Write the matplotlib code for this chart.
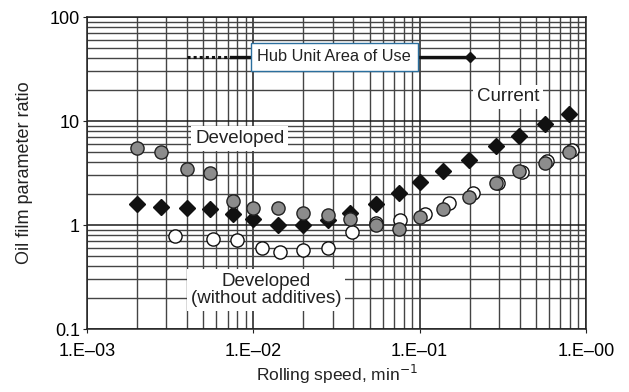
import matplotlib.pyplot as plt
from matplotlib.ticker import LogLocator, FixedLocator, NullFormatter

plt.rcParams['font.family'] = ['Liberation Sans', 'DejaVu Sans']

# Developed (grey circles)
dev_x = [0.002, 0.0028, 0.004, 0.0055, 0.0075, 0.01, 0.014, 0.02, 0.028, 0.038,
         0.055, 0.075, 0.1, 0.139, 0.198, 0.289, 0.398, 0.565, 0.794]
dev_y = [5.46, 5.07, 3.43, 3.14, 1.71, 1.47, 1.46, 1.30, 1.26, 1.13,
         1.0, 0.92, 1.2, 1.42, 1.85, 2.55, 3.28, 3.99, 5.07]

# Current (black diamonds)
cur_x = [0.002, 0.0028, 0.004, 0.0055, 0.0075, 0.01, 0.014, 0.02, 0.028, 0.038,
         0.055, 0.075, 0.1, 0.139, 0.198, 0.289, 0.398, 0.565, 0.794]
cur_y = [1.58, 1.50, 1.45, 1.42, 1.28, 1.13, 1.0, 0.99, 1.12, 1.31,
         1.58, 2.02, 2.57, 3.28, 4.22, 5.79, 7.22, 9.29, 11.75]

# Developed without additives (white circles)
noadd_x = [0.0034, 0.0057, 0.008, 0.0112, 0.0145, 0.02, 0.028, 0.0393, 0.055,
           0.0766, 0.107, 0.15, 0.21, 0.295, 0.413, 0.58, 0.82]
noadd_y = [0.78, 0.73, 0.71, 0.60, 0.55, 0.57, 0.60, 0.85, 1.04,
           1.11, 1.28, 1.64, 2.03, 2.55, 3.23, 4.1, 5.25]

# hub unit area of use
hub_dotted = [0.004, 0.0073]
hub_solid = [0.0073, 0.2]
hub_level = 41.5

xticks = [1e-3, 1e-2, 1e-1, 1e0]
xticklabels = ['1.E\u201303', '1.E\u201302', '1.E\u201301', '1.E\u201300']
yticks = [0.1, 1, 10, 100]
yticklabels = ['0.1', '1', '10', '100']

fig = plt.figure(figsize=(6.29, 3.92), dpi=100)
ax = fig.add_axes([0.1383, 0.1607, 0.7933, 0.7959])
ax.set_xscale('log')
ax.set_yscale('log')
ax.set_xlim(1e-3, 1)
ax.set_ylim(0.1, 100)

ax.xaxis.set_major_locator(FixedLocator(xticks))
ax.set_xticklabels(xticklabels)
ax.yaxis.set_major_locator(FixedLocator(yticks))
ax.set_yticklabels(yticklabels)
ax.xaxis.set_minor_locator(LogLocator(base=10, subs=range(2, 10)))
ax.yaxis.set_minor_locator(LogLocator(base=10, subs=range(2, 10)))
ax.xaxis.set_minor_formatter(NullFormatter())
ax.yaxis.set_minor_formatter(NullFormatter())

ax.grid(which='major', color='#1a1a1a', lw=1.1)
ax.grid(which='minor', color='#444444', lw=1.0)
ax.set_axisbelow(True)
ax.tick_params(which='major', direction='out', length=3, labelsize=13, color='#222222')
ax.tick_params(axis='x', which='major', pad=7)
ax.tick_params(axis='y', which='major', pad=2)
ax.tick_params(which='minor', length=0)
for s in ax.spines.values():
    s.set_color('#222222')
    s.set_linewidth(1.1)

ax.plot(noadd_x, noadd_y, 'o', ms=9.5, mfc='white', mec='#111111', mew=1.0, zorder=3)
ax.plot(cur_x, cur_y, 'D', ms=8.5, mfc='#111111', mec='#111111', zorder=4)
ax.plot(dev_x, dev_y, 'o', ms=9.5, mfc='#8c8c8c', mec='#222222', mew=1.0, zorder=5)

ax.plot(hub_dotted, [hub_level] * 2, color='#111111', lw=2.2, ls=(0, (1, 1)), zorder=4)
ax.plot(hub_solid, [hub_level] * 2, color='#111111', lw=2.4, zorder=4)
ax.plot([hub_solid[1]], [hub_level], 'D', ms=5, color='#111111', zorder=4)

ax.text(0.0306, hub_level, 'Hub Unit Area of Use', ha='center', va='center', fontsize=11.8,
        color='#222222', zorder=6,
        bbox=dict(boxstyle='square,pad=0.4', fc='white', ec='#2b6f9e', lw=1.0))
ax.text(0.0083, 6.8, 'Developed', ha='center', va='center', fontsize=13.5, color='#222222',
        zorder=6, bbox=dict(boxstyle='square,pad=0.2', fc='white', ec='none'))
ax.text(0.341, 17.1, 'Current', ha='center', va='center', fontsize=13.5, color='#222222',
        zorder=6, bbox=dict(boxstyle='square,pad=0.2', fc='white', ec='none'))
ax.text(0.012, 0.237, 'Developed\n(without additives)', ha='center', va='center',
        fontsize=13.5, color='#222222', linespacing=1.05, zorder=6,
        bbox=dict(boxstyle='square,pad=0.2', fc='white', ec='none'))

ax.set_xlabel('Rolling speed, min$^{-1}$', fontsize=12.5, color='#222222', labelpad=2)
ax.set_ylabel('Oil film parameter ratio', fontsize=13, color='#222222', labelpad=12)

fig.savefig('out.png', dpi=100)
